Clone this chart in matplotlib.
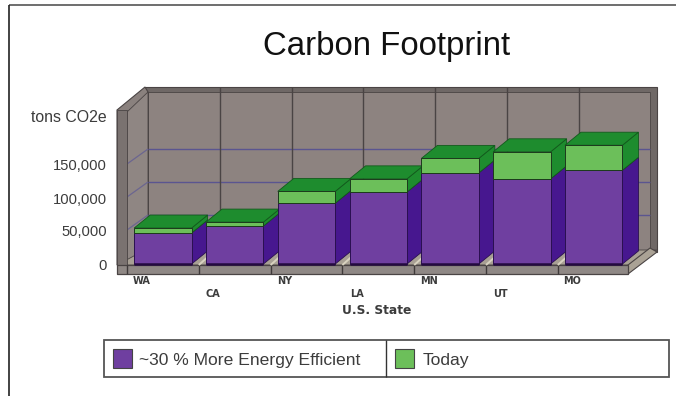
import matplotlib
matplotlib.use('Agg')
import matplotlib.pyplot as plt

states = ['WA', 'CA', 'NY', 'LA', 'MN', 'UT', 'MO']
efficient = [47000, 57500, 92000, 109000, 138000, 129000, 142000]
today = [54500, 63500, 110000, 129000, 160000, 170000, 180000]
y_ticks = [0, 50000, 100000, 150000]
y_labels = ['0', '50,000', '100,000', '150,000']
legend_names = ['~30 % More Energy Efficient', 'Today']

W, H = 676, 396
PX_X = 71.8     # pixels per category
PX_Y = 33 / 50000   # pixels per ton
X0, Y0 = 127, 264   # pixel position of the origin

plt.rcParams['font.family'] = ['Liberation Sans', 'DejaVu Sans']

fig = plt.figure(figsize=(W / 100, H / 100), dpi=100)
ax = fig.add_axes([0, 0, 1, 1])
ax.set_xlim(-X0 / PX_X, (W - X0) / PX_X)
ax.set_ylim((Y0 - H) / PX_Y, Y0 / PX_Y)
ax.axis('off')

z = [1]
TEXT_Z = 1000


def next_z():
    # painter's order: later calls sit on top
    z[0] += 1
    return z[0]


def fx(p):
    return (p - X0) / PX_X


def fy(p):
    return (Y0 - p) / PX_Y


def panel(points, color, edge='#4a4444', lw=0.8):
    xs = [fx(p[0]) for p in points]
    ys = [fy(p[1]) for p in points]
    ax.fill(xs, ys, facecolor=color, edgecolor=edge, linewidth=lw, zorder=next_z())


def line(x1, y1, x2, y2, color, lw=1.0):
    ax.plot([fx(x1), fx(x2)], [fy(y1), fy(y2)], color=color, lw=lw,
            solid_capstyle='butt', zorder=next_z())


WALL = '#8d8380'
FRAME = '#6f6866'

# page frame
line(9, 5, 676, 5, '#555555', 1.2)
line(9, 5, 9, 396, '#222222', 1.2)

# back wall and its rim
panel([(145, 87), (657, 87), (657, 252), (145, 252)], FRAME)
panel([(148, 92), (650, 92), (650, 250), (148, 250)], WALL, lw=0.6)
# side wall
panel([(117, 110), (145, 87), (148, 92), (148, 250), (127, 265), (117, 265)], '#8a817e')
panel([(127, 112), (148, 92), (148, 250), (127, 265)], '#8f8683', lw=0.6)

# value grid on the back and side walls
for v in y_ticks[1:]:
    yb = Y0 - v * PX_Y - 16
    line(148, yb, 650, yb, '#5a5590', 1.0)
    line(127, yb + 15, 148, yb, '#6b6590', 0.9)

# category grid on the back wall
for i in range(1, 7):
    xb = X0 + i * PX_X + 21
    line(xb, 87, xb, 250, '#4a4444', 1.0)

# floor
panel([(117, 265), (145, 250), (657, 250), (628, 265)], '#a8a094', lw=0.6)
panel([(628, 265), (650, 248), (657, 252), (628, 274)], '#aaa295', lw=0.8)
panel([(117, 110), (127, 110), (127, 274), (117, 274)], '#7a7270', lw=0.6)
panel([(117, 265), (628, 265), (628, 274), (117, 274)], '#8f8885', lw=0.9)
line(127, 265, 127, 274, '#3f3a3a', 1.0)
for i in range(1, 7):
    xf = X0 + i * PX_X
    line(xf, 265, xf, 274, '#3f3a3a', 1.0)
    line(xf, 265, xf + 10, 256, '#d8d2c0', 1.4)

# stacked bars with a depth offset
bar_w = 0.8
dx = 16 / PX_X
dy = 13 / PX_Y
PURPLE, PURPLE_SIDE = '#6f3fa0', '#47178f'
GREEN, GREEN_DARK = '#6cbf5a', '#1e8c2e'

for i in range(len(states)):
    left = i + 0.5 - bar_w / 2
    right = left + bar_w
    low, high = efficient[i], today[i]
    ax.fill([right, right + dx, right + dx, right], [0, dy, low + dy, low],
            facecolor=PURPLE_SIDE, edgecolor='#2a1050', linewidth=0.6, zorder=next_z())
    ax.fill([right, right + dx, right + dx, right], [low, low + dy, high + dy, high],
            facecolor=GREEN_DARK, edgecolor='#125a1c', linewidth=0.6, zorder=next_z())
    ax.fill([left, left + dx, right + dx, right], [high, high + dy, high + dy, high],
            facecolor=GREEN_DARK, edgecolor='#125a1c', linewidth=0.6, zorder=next_z())
    ax.bar(i + 0.5, low, bar_w, color=PURPLE, edgecolor='#2a1050', linewidth=0.7, zorder=next_z())
    ax.bar(i + 0.5, high - low, bar_w, bottom=low, color=GREEN, edgecolor='#1c3a1c',
           linewidth=0.7, zorder=next_z())
    ax.plot([left, right], [0, 0], color='#240a40', lw=1.8, solid_capstyle='butt', zorder=next_z())

# axis labels
TXT = '#3c3c3c'
for v, s in zip(y_ticks, y_labels):
    ax.text(fx(107), v - 1.5 / PX_Y, s, ha='right', va='center', fontsize=10.6, color=TXT, zorder=TEXT_Z)
ax.text(fx(107), fy(118), 'tons CO2e', ha='right', va='center', fontsize=11.4, color=TXT, zorder=TEXT_Z)

for i, s in enumerate(states):
    ypos = 281 if i % 2 == 0 else 294
    ax.text(i + 0.2, fy(ypos), s, ha='center', va='center', fontsize=7,
            fontweight='bold', family='DejaVu Sans', color=TXT, zorder=TEXT_Z)
ax.text(fx(377), fy(311), 'U.S. State', ha='center', va='center', fontsize=8.8,
        fontweight='bold', family='DejaVu Sans', color=TXT, zorder=TEXT_Z)

ax.text(fx(386.5), fy(47), 'Carbon Footprint', ha='center', va='center', fontsize=23.8,
        color='#111111', zorder=TEXT_Z)

# legend box
panel([(104, 340), (669, 340), (669, 377), (104, 377)], 'white', edge='#555555', lw=1.3)
line(386, 340, 386, 377, '#333333', 1.0)
panel([(113, 349), (132, 349), (132, 368), (113, 368)], PURPLE, edge='#444444', lw=0.8)
panel([(395, 349), (414, 349), (414, 368), (395, 368)], GREEN, edge='#444444', lw=0.8)
ax.text(fx(139), fy(360), legend_names[0], ha='left', va='center', fontsize=12.6, color=TXT, zorder=TEXT_Z)
ax.text(fx(423), fy(360), legend_names[1], ha='left', va='center', fontsize=12.6, color=TXT, zorder=TEXT_Z)

fig.savefig('out.png', dpi=100)
